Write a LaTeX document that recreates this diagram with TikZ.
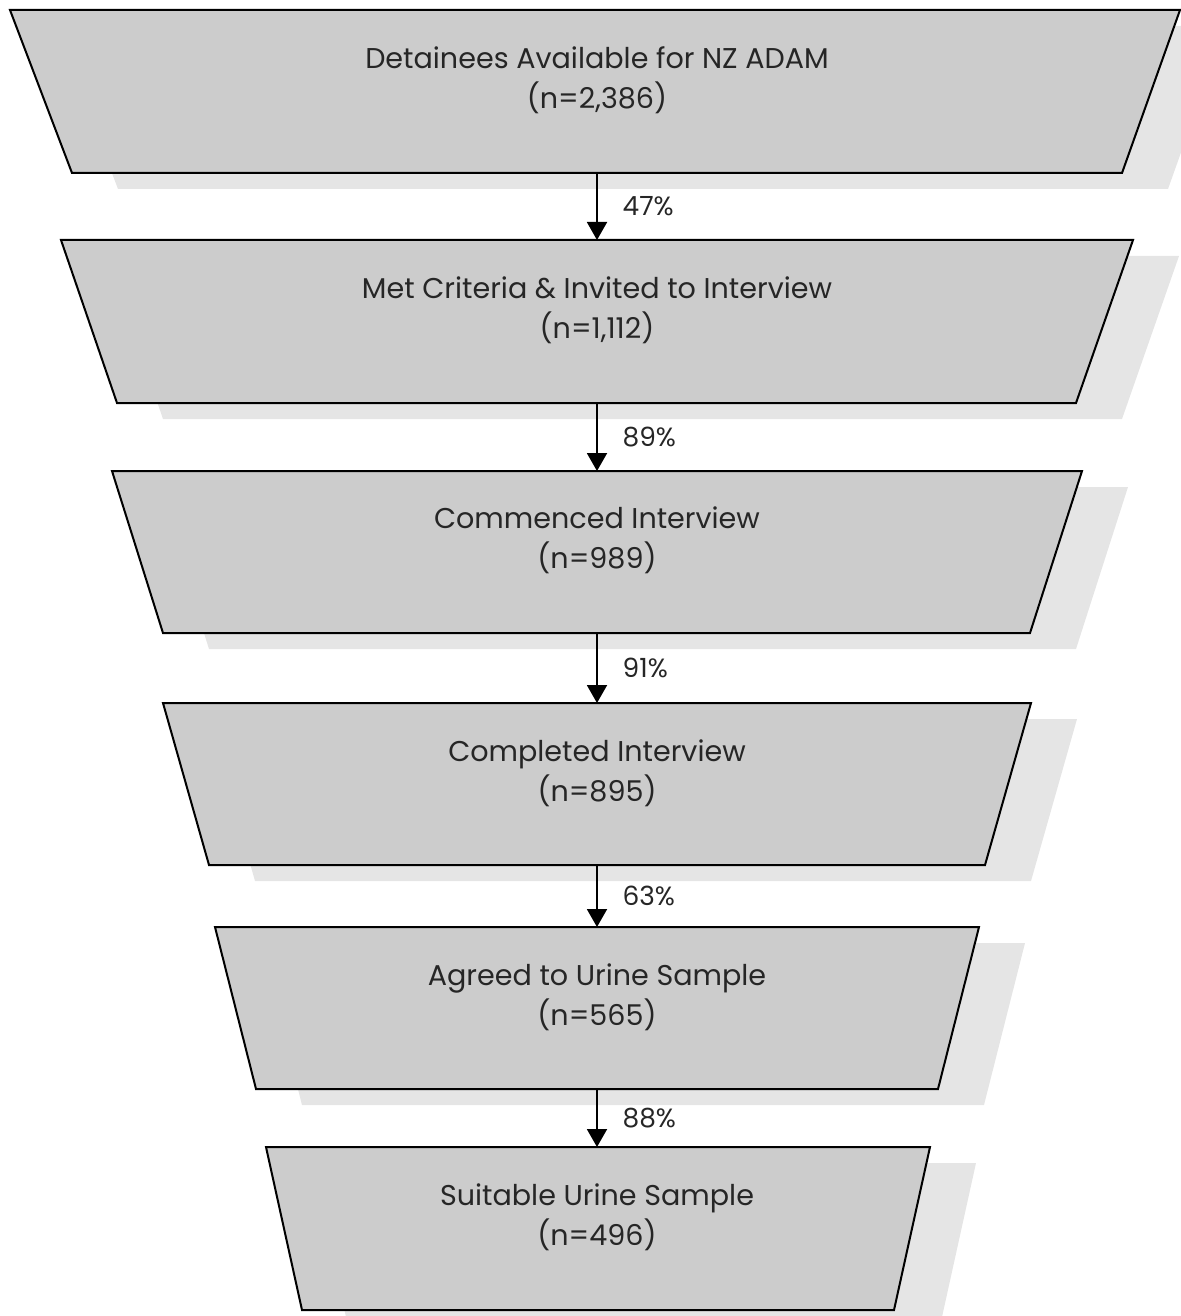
\documentclass[tikz,border=0pt]{standalone}
\usepackage{fontspec}
\setmainfont{Poppins}
\usepackage{tikz}
\usetikzlibrary{positioning, calc, arrows.meta}

\begin{document}
\begin{tikzpicture}[
    x=0.5pt, y=-0.5pt,
    funnel/.style={draw=black, line width=1pt, fill=black!20, line join=miter},
    funnelshadow/.style={fill=black!10, draw=none, shift={(46,16)}},
    stagetext/.style={align=center, font=\fontsize{14.3}{20}\selectfont, text=black!85},
    flowarrow/.style={-{Triangle[width=10pt,length=9pt]}, line width=1pt},
    pct/.style={font=\fontsize{13.2}{14}\selectfont, text=black!85, anchor=west, xshift=9pt},
  ]
    \useasboundingbox (0,0) rectangle (1181,1316);

    % shadows
    \fill[funnelshadow] (10,10) -- (1180,10) -- (1122,173) -- (72,173) -- cycle;
    \fill[funnelshadow] (61,240) -- (1133,240) -- (1076,403) -- (117,403) -- cycle;
    \fill[funnelshadow] (112,471) -- (1082,471) -- (1030,633) -- (163,633) -- cycle;
    \fill[funnelshadow] (163,703) -- (1031,703) -- (985,865) -- (209,865) -- cycle;
    \fill[funnelshadow] (215,927) -- (979,927) -- (938,1089) -- (256,1089) -- cycle;
    \fill[funnelshadow] (266,1147) -- (930,1147) -- (894,1310) -- (302,1310) -- cycle;

    % stages
    \draw[funnel] (10,10) -- (1180,10) -- (1122,173) -- (72,173) -- cycle;
    \draw[funnel] (61,240) -- (1133,240) -- (1076,403) -- (117,403) -- cycle;
    \draw[funnel] (112,471) -- (1082,471) -- (1030,633) -- (163,633) -- cycle;
    \draw[funnel] (163,703) -- (1031,703) -- (985,865) -- (209,865) -- cycle;
    \draw[funnel] (215,927) -- (979,927) -- (938,1089) -- (256,1089) -- cycle;
    \draw[funnel] (266,1147) -- (930,1147) -- (894,1310) -- (302,1310) -- cycle;

    \node[stagetext] (s1) at (597,80) {Detainees Available for NZ ADAM\\(n=2,386)};
    \node[stagetext] (s2) at (597,310) {Met Criteria \& Invited to Interview\\(n=1,112)};
    \node[stagetext] (s3) at (597,540) {Commenced Interview\\(n=989)};
    \node[stagetext] (s4) at (597,773) {Completed Interview\\(n=895)};
    \node[stagetext] (s5) at (597,997) {Agreed to Urine Sample\\(n=565)};
    \node[stagetext] (s6) at (597,1217) {Suitable Urine Sample\\(n=496)};

    % arrow ends on the box edges
    \coordinate (s1-bot) at (597,173);
    \coordinate (s2-top) at (597,240);
    \coordinate (s2-bot) at (597,403);
    \coordinate (s3-top) at (597,471);
    \coordinate (s3-bot) at (597,633);
    \coordinate (s4-top) at (597,703);
    \coordinate (s4-bot) at (597,865);
    \coordinate (s5-top) at (597,927);
    \coordinate (s5-bot) at (597,1089);
    \coordinate (s6-top) at (597,1147);

    \draw[flowarrow] (s1-bot) -- (s2-top) node[pct, midway] (p1) {47\%};
    \draw[flowarrow] (s2-bot) -- (s3-top) node[pct, midway] (p2) {89\%};
    \draw[flowarrow] (s3-bot) -- (s4-top) node[pct, midway] (p3) {91\%};
    \draw[flowarrow] (s4-bot) -- (s5-top) node[pct, midway] (p4) {63\%};
    \draw[flowarrow] (s5-bot) -- (s6-top) node[pct, midway] (p5) {88\%};
  \end{tikzpicture}
\end{document}
